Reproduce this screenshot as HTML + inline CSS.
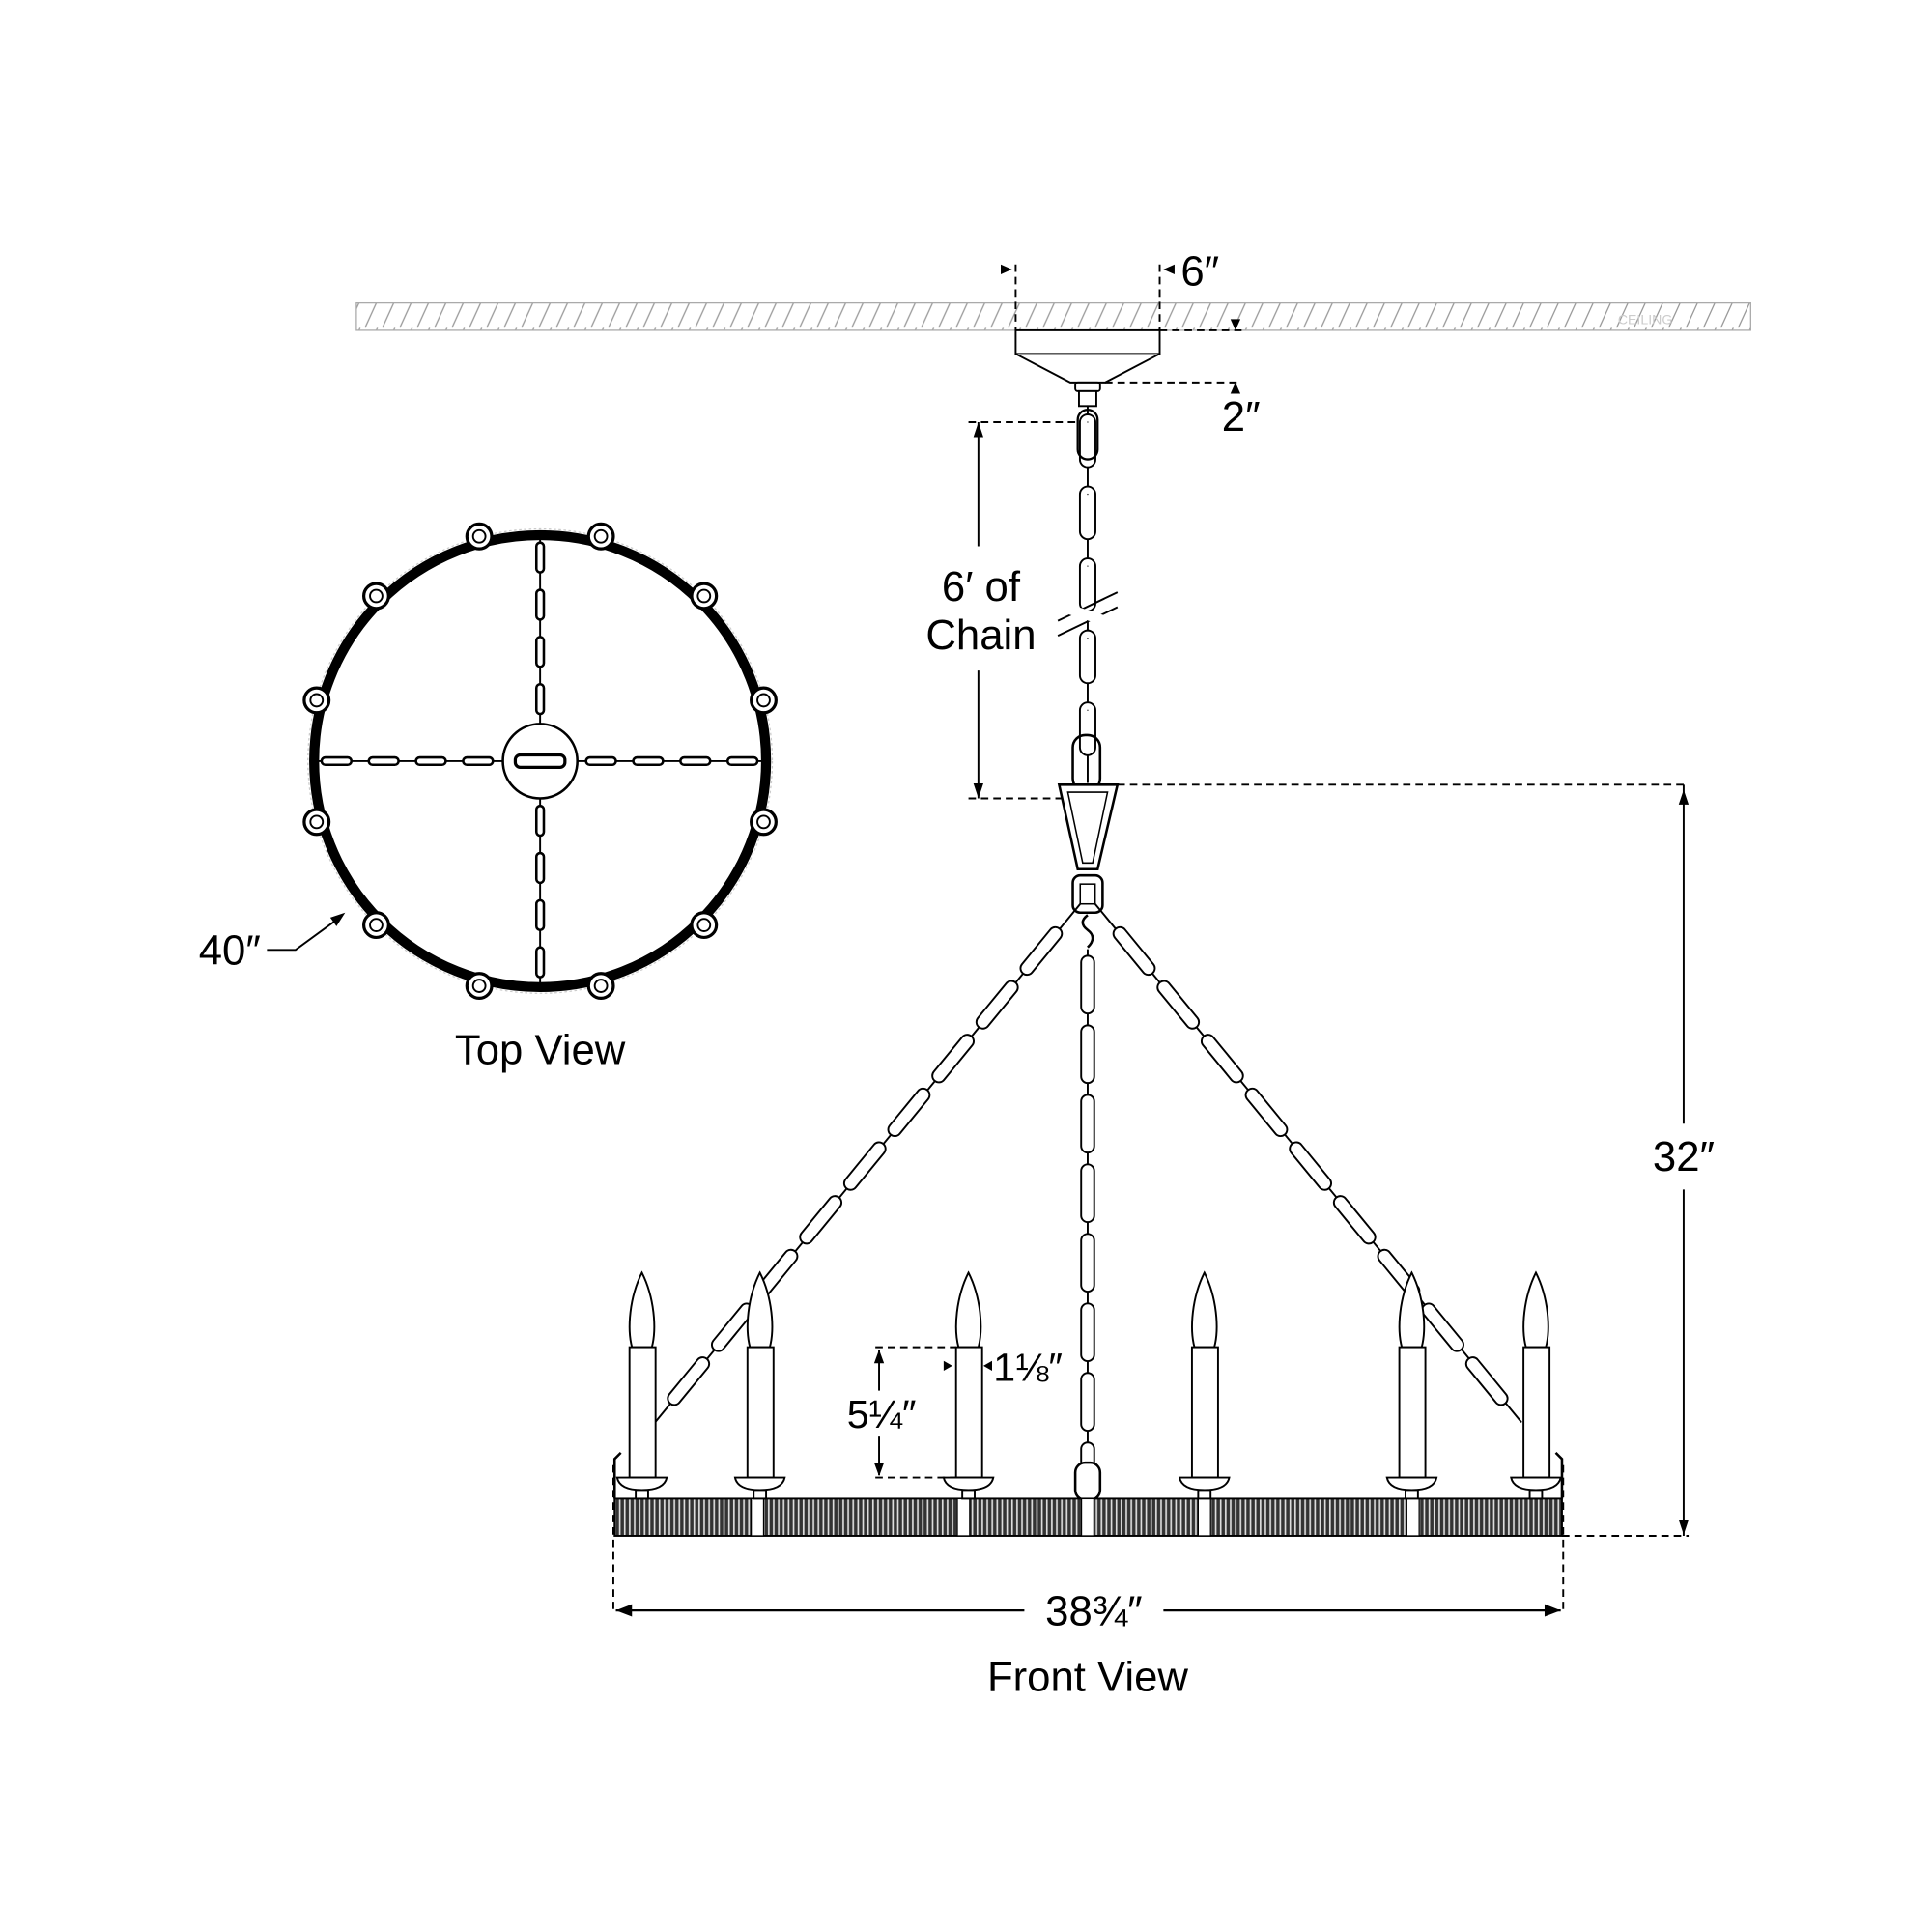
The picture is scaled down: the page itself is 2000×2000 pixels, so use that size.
<!DOCTYPE html>
<html><head><style>html,body{margin:0;padding:0;background:#fff}svg{display:block}</style></head><body>
<svg width="2000" height="2000" viewBox="0 0 1556 1556" xmlns="http://www.w3.org/2000/svg" font-family="Liberation Sans, sans-serif">
<defs>
<pattern id="hatch" width="14" height="22" patternUnits="userSpaceOnUse"><path d="M0 22 L10 0" stroke="#999" stroke-width="1"/></pattern>
<pattern id="stripes" width="4" height="30" patternUnits="userSpaceOnUse"><rect width="4" height="30" fill="#333"/><rect x="2.5" width="1.3" height="30" fill="#ddd"/></pattern>
</defs>
<rect x="287" y="244" width="1123" height="22" fill="url(#hatch)" stroke="#aaa" stroke-width="1"/>
<text x="1325" y="261" font-size="11" fill="#ccc" text-anchor="middle">CEILING</text>
<rect x="818" y="266" width="116" height="19" fill="#fff" stroke="#000" stroke-width="1.5"/>
<path d="M818 285 L862 308 L890 308 L934 285" fill="#fff" stroke="#000" stroke-width="1.5"/>
<rect x="866" y="308" width="20" height="7" rx="2" fill="#fff" stroke="#000" stroke-width="1.5"/>
<rect x="869" y="315" width="14" height="12" fill="#fff" stroke="#000" stroke-width="1.5"/>
<g stroke="#000" stroke-width="1.5" stroke-dasharray="6 4"><line x1="818" y1="213" x2="818" y2="266"/><line x1="934" y1="213" x2="934" y2="266"/><line x1="934" y1="266" x2="1000" y2="266"/><line x1="890" y1="308" x2="1000" y2="308"/><line x1="780" y1="340" x2="870" y2="340"/><line x1="780" y1="643" x2="870" y2="643"/><line x1="890" y1="632" x2="1360" y2="632"/><line x1="705" y1="1085" x2="770" y2="1085"/><line x1="705" y1="1190" x2="770" y2="1190"/><line x1="494" y1="1180" x2="494" y2="1300"/><line x1="1259" y1="1180" x2="1259" y2="1300"/><line x1="1258" y1="1237" x2="1360" y2="1237"/></g>
<g fill="#000"><path d="M815 217 L806 213 L806 221Z"/><path d="M937 217 L946 213 L946 221Z"/><path d="M995 266 L991 257 L999 257Z"/><path d="M995 308 L991 317 L999 317Z"/></g>
<text x="951" y="230" font-size="34">6″</text>
<text x="984" y="347" font-size="34">2″</text>
<line x1="788" y1="340" x2="788" y2="440" stroke="#000" stroke-width="1.5"/><line x1="788" y1="540" x2="788" y2="643" stroke="#000" stroke-width="1.5"/>
<path d="M788 340 L784 352 L792 352Z M788 643 L784 631 L792 631Z"/>
<text x="790" y="484" font-size="34" text-anchor="middle">6′ of</text>
<text x="790" y="523" font-size="34" text-anchor="middle">Chain</text>
<g fill="none" stroke-linecap="round">
<line x1="876" y1="327" x2="876" y2="630" stroke="#000" stroke-width="1.5"/>
<line x1="876" y1="340" x2="876" y2="630" stroke="#000" stroke-width="14" stroke-dasharray="30 28"/>
<line x1="876" y1="340" x2="876" y2="630" stroke="#fff" stroke-width="11" stroke-dasharray="30 28"/>
<line x1="876" y1="340" x2="876" y2="630" stroke="#000" stroke-width="1" stroke-dasharray="0 58"/>
</g>
<rect x="868" y="330" width="16" height="40" rx="8" fill="none" stroke="#000" stroke-width="1.8"/>
<rect x="864" y="592" width="22" height="45" rx="10" fill="none" stroke="#000" stroke-width="2"/>
<g stroke="#000" stroke-width="1.5"><line x1="852" y1="500" x2="900" y2="477"/><line x1="852" y1="512" x2="900" y2="489"/></g>
<line x1="862" y1="491" x2="890" y2="500" stroke="#fff" stroke-width="8"/>
<path d="M853 632 L900 632 L884 700 L868 700Z" fill="#fff" stroke="#000" stroke-width="2"/>
<path d="M860 638 L892 638 L880 695 L872 695Z" fill="none" stroke="#000" stroke-width="1.2"/>
<rect x="864" y="705" width="24" height="30" rx="6" fill="#fff" stroke="#000" stroke-width="2"/>
<rect x="870" y="712" width="12" height="16" fill="none" stroke="#000" stroke-width="1.2"/>
<path d="M876 737 q-8 6 0 12 q8 6 0 14" fill="none" stroke="#000" stroke-width="2"/>
<line x1="1356" y1="632" x2="1356" y2="905" stroke="#000" stroke-width="1.5"/><line x1="1356" y1="958" x2="1356" y2="1237" stroke="#000" stroke-width="1.5"/>
<path d="M1356 636 L1352 648 L1360 648Z M1356 1236 L1352 1224 L1360 1224Z"/>
<text x="1356" y="943" font-size="34" text-anchor="middle">32″</text>
<g fill="none" stroke-linecap="round">
<g stroke="#000" stroke-width="1.5"><line x1="870" y1="728" x2="528" y2="1145"/><line x1="882" y1="728" x2="1225" y2="1145"/><line x1="876" y1="765" x2="876" y2="1190"/></g>
<g stroke-width="12" stroke-dasharray="36 20">
<line x1="850" y1="752" x2="540" y2="1130" stroke="#000"/><line x1="902" y1="752" x2="1212" y2="1130" stroke="#000"/><line x1="876" y1="775" x2="876" y2="1180" stroke="#000"/></g>
<g stroke-width="9" stroke-dasharray="36 20">
<line x1="850" y1="752" x2="540" y2="1130" stroke="#fff"/><line x1="902" y1="752" x2="1212" y2="1130" stroke="#fff"/><line x1="876" y1="775" x2="876" y2="1180" stroke="#fff"/></g>
</g>
<rect x="866" y="1178" width="20" height="30" rx="8" fill="#fff" stroke="#000" stroke-width="2"/>
<rect x="495" y="1207" width="763" height="30" fill="url(#stripes)" stroke="#000" stroke-width="1.5"/>
<g fill="#fff" stroke="#000" stroke-width="1"><rect x="605" y="1207" width="10" height="30"/><rect x="771" y="1207" width="10" height="30"/><rect x="871" y="1207" width="10" height="30"/><rect x="965" y="1207" width="10" height="30"/><rect x="1133" y="1207" width="10" height="30"/></g>
<path d="M495 1207 L495 1175 L500 1170 M1258 1207 L1258 1175 L1253 1170" stroke="#000" stroke-width="2" fill="none"/>
<g id="c" fill="#fff" stroke="#000" stroke-width="1.5">
<path d="M517 1025 C507 1045 505 1070 509 1085 L525 1085 C529 1070 527 1045 517 1025Z"/>
<rect x="507" y="1085" width="21" height="105"/>
<path d="M497 1190 L537 1190 Q535 1200 517 1200 Q499 1200 497 1190Z"/>
<rect x="512" y="1200" width="10" height="7"/>
</g>
<use href="#c" x="95"/><use href="#c" x="263"/><use href="#c" x="453"/><use href="#c" x="620"/><use href="#c" x="720"/>
<line x1="708" y1="1087" x2="708" y2="1120" stroke="#000" stroke-width="1.5"/><line x1="708" y1="1157" x2="708" y2="1188" stroke="#000" stroke-width="1.5"/>
<path d="M708 1087 L704 1098 L712 1098Z M708 1189 L704 1178 L712 1178Z"/>
<text x="710" y="1150" font-size="32" text-anchor="middle">5¼″</text>
<path d="M767 1100 L760 1096 L760 1104Z M792 1100 L799 1096 L799 1104Z"/>
<text x="800" y="1112" font-size="32">1⅛″</text>
<line x1="496" y1="1297" x2="825" y2="1297" stroke="#000" stroke-width="1.8"/><line x1="937" y1="1297" x2="1257" y2="1297" stroke="#000" stroke-width="1.8"/>
<path d="M496 1297 L509 1292 L509 1302Z M1257 1297 L1244 1292 L1244 1302Z"/>
<text x="881" y="1309" font-size="34" text-anchor="middle">38¾″</text>
<text x="876" y="1362" font-size="34" text-anchor="middle">Front View</text>
<circle cx="435" cy="613" r="187" fill="none" stroke="#ccc" stroke-width="1" stroke-dasharray="2 2"/>
<circle cx="435" cy="613" r="182" fill="none" stroke="#000" stroke-width="8"/>
<g stroke="#000" stroke-width="1.5"><line x1="253" y1="613" x2="617" y2="613"/><line x1="435" y1="431" x2="435" y2="795"/></g>
<g fill="none" stroke-linecap="round">
<g stroke="#000" stroke-width="8" stroke-dasharray="18 20"><line x1="262" y1="613" x2="395" y2="613"/><line x1="475" y1="613" x2="612" y2="613"/><line x1="435" y1="440" x2="435" y2="575"/><line x1="435" y1="652" x2="435" y2="790"/></g>
<g stroke="#fff" stroke-width="4" stroke-dasharray="18 20"><line x1="262" y1="613" x2="395" y2="613"/><line x1="475" y1="613" x2="612" y2="613"/><line x1="435" y1="440" x2="435" y2="575"/><line x1="435" y1="652" x2="435" y2="790"/></g>
</g>
<circle cx="435" cy="613" r="30" fill="#fff" stroke="#000" stroke-width="2"/>
<rect x="415" y="608" width="40" height="10" rx="4" fill="#fff" stroke="#000" stroke-width="2.5"/>
<g fill="#fff" stroke="#000" stroke-width="2.5">
<circle cx="386" cy="432" r="10"/><circle cx="484" cy="432" r="10"/><circle cx="303" cy="480" r="10"/><circle cx="567" cy="480" r="10"/><circle cx="255" cy="564" r="10"/><circle cx="615" cy="564" r="10"/><circle cx="255" cy="662" r="10"/><circle cx="615" cy="662" r="10"/><circle cx="303" cy="745" r="10"/><circle cx="567" cy="745" r="10"/><circle cx="386" cy="794" r="10"/><circle cx="484" cy="794" r="10"/>
</g>
<g fill="none" stroke="#000" stroke-width="1.5">
<circle cx="386" cy="432" r="5"/><circle cx="484" cy="432" r="5"/><circle cx="303" cy="480" r="5"/><circle cx="567" cy="480" r="5"/><circle cx="255" cy="564" r="5"/><circle cx="615" cy="564" r="5"/><circle cx="255" cy="662" r="5"/><circle cx="615" cy="662" r="5"/><circle cx="303" cy="745" r="5"/><circle cx="567" cy="745" r="5"/><circle cx="386" cy="794" r="5"/><circle cx="484" cy="794" r="5"/>
</g>
<path d="M215 765 L238 765 L275 738" fill="none" stroke="#000" stroke-width="1.5"/>
<path d="M278 735 L266 739 L271 746Z"/>
<text x="185" y="777" font-size="34" text-anchor="middle">40″</text>
<text x="435" y="857" font-size="34" text-anchor="middle">Top View</text>
</svg>
</body></html>
